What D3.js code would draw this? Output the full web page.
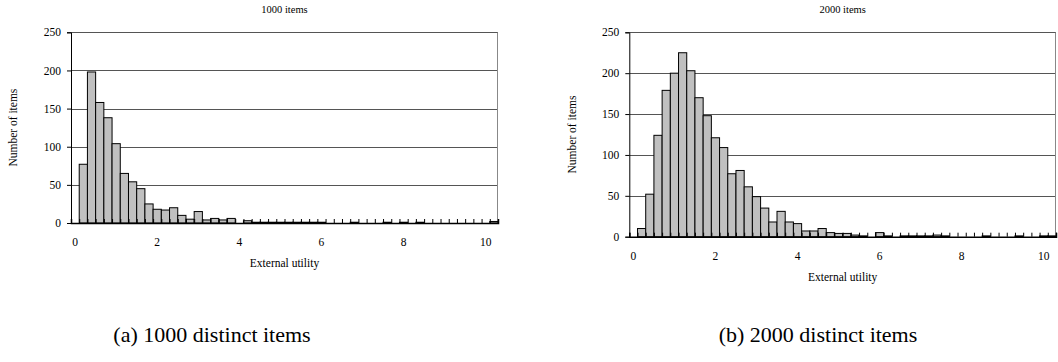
<!DOCTYPE html>
<html>
<head>
<meta charset="utf-8">
<script src="https://cdn.jsdelivr.net/npm/d3@7"></script>
<style>
  body { margin: 0; background: #fff; }
  text { font-family: "Liberation Serif", "Times New Roman", serif; fill: #000; }
</style>
</head>
<body>
<div id="chart"></div>
<script>
// bins of width 0.2 starting at 0 (52 bins: 0 .. 10.2)
var xTickLabels = ["0", "2", "4", "6", "8", "10"];
var yTicks = [0, 50, 100, 150, 200, 250];

var items1000 = [0, 77, 198, 158, 138, 104, 65, 54, 45, 25,
                 18, 17, 20, 10, 5, 15, 4, 6, 4, 6,
                 0, 3, 1, 1, 1, 1, 1, 1, 1, 1,
                 1, 0, 0, 0, 1, 0, 0, 0, 1, 0,
                 1, 0, 1, 0, 0, 0, 0, 0, 0, 0,
                 0, 2];

var items2000 = [0, 10, 52, 124, 179, 200, 225, 203, 170, 148,
                 121, 109, 77, 81, 61, 49, 35, 18, 31, 18,
                 16, 7, 7, 10, 5, 4, 4, 2, 1, 0,
                 5, 1, 0, 1, 1, 1, 1, 2, 1, 0,
                 0, 0, 0, 1, 0, 0, 0, 1, 0, 0,
                 1, 1];

var svg = d3.select("#chart")
  .append("svg")
  .attr("width", 1058)
  .attr("height", 362);

function drawHist(data, opt) {
  var nBins = data.length;

  var x = d3.scaleBand()
    .domain(d3.range(nBins))
    .range([opt.left, opt.right])
    .padding(0);

  var xEdge = d3.scaleLinear()
    .domain([0, nBins])
    .range([opt.left, opt.right]);

  var y = d3.scaleLinear()
    .domain([0, 250])
    .range([opt.bottom, opt.top]);

  var g = svg.append("g");

  // gridlines
  g.append("g")
    .selectAll("line")
    .data(yTicks.slice(1))
    .enter()
    .append("line")
    .attr("x1", opt.left)
    .attr("x2", opt.right)
    .attr("y1", d => Math.round(y(d)) + 0.5)
    .attr("y2", d => Math.round(y(d)) + 0.5)
    .attr("stroke", "#555")
    .attr("stroke-width", 1);

  // right border
  g.append("line")
    .attr("x1", Math.round(opt.right) - 0.5)
    .attr("x2", Math.round(opt.right) - 0.5)
    .attr("y1", Math.round(y(250)) + 0.5)
    .attr("y2", opt.bottom)
    .attr("stroke", "#888");

  // bars
  g.append("g")
    .selectAll("rect")
    .data(data.map((v, i) => ({ i: i, v: v })).filter(d => d.v > 0))
    .enter()
    .append("rect")
    .attr("x", d => x(d.i))
    .attr("y", d => y(d.v))
    .attr("width", x.bandwidth())
    .attr("height", d => opt.bottom - y(d.v))
    .attr("fill", "#c0c0c0")
    .attr("stroke", "#000")
    .attr("stroke-width", 1);

  // left axis
  var leftAxis = d3.axisLeft(y)
    .tickValues(yTicks)
    .tickSize(4)
    .tickPadding(6);

  var ly = g.append("g")
    .attr("transform", `translate(${opt.left}, 0)`)
    .call(leftAxis);
  ly.select(".domain").attr("stroke", "#000");
  ly.selectAll("text")
    .attr("font-size", "11.5px")
    .attr("font-family", "Liberation Serif");

  // boundary tick marks along the bottom
  var edgeAxis = d3.axisBottom(xEdge)
    .tickValues(d3.range(0, nBins + 1))
    .tickSize(-4)
    .tickFormat("");
  var ex = g.append("g")
    .attr("transform", `translate(0, ${opt.bottom})`)
    .call(edgeAxis);
  ex.select(".domain").attr("stroke", "#000").attr("stroke-width", 1.5);

  // category labels every 10 bins
  var bottomAxis = d3.axisBottom(x)
    .tickValues([0, 10, 20, 30, 40, 50])
    .tickSize(0)
    .tickPadding(15)
    .tickFormat((d, i) => xTickLabels[i]);
  var bx = g.append("g")
    .attr("transform", `translate(0, ${opt.bottom})`)
    .call(bottomAxis);
  bx.select(".domain").remove();
  bx.selectAll("text")
    .attr("font-size", "11.5px")
    .attr("font-family", "Liberation Serif");

  var cx = (opt.left + opt.right) / 2;

  // title
  g.append("text")
    .attr("x", cx)
    .attr("y", opt.titleY)
    .attr("text-anchor", "middle")
    .attr("font-size", "10.5px")
    .text(opt.title);

  // axis titles
  g.append("text")
    .attr("x", cx)
    .attr("y", opt.bottom + 44)
    .attr("text-anchor", "middle")
    .attr("font-size", "11.5px")
    .text("External utility");

  g.append("text")
    .attr("transform", `translate(${opt.yLabelX}, ${(opt.top + opt.bottom) / 2}) rotate(-90)`)
    .attr("text-anchor", "middle")
    .attr("font-size", "11.5px")
    .text("Number of items");

  // caption
  svg.append("text")
    .attr("x", opt.captionX)
    .attr("y", 342)
    .attr("text-anchor", "middle")
    .attr("font-size", "22px")
    .text(opt.caption);
}

drawHist(items1000, {
  left: 71, right: 498, top: 32.3, bottom: 223,
  title: "1000 items", titleY: 13, yLabelX: 17,
  caption: "(a) 1000 distinct items", captionX: 212
});

drawHist(items2000, {
  left: 629.3, right: 1056, top: 32.3, bottom: 236.7,
  title: "2000 items", titleY: 13, yLabelX: 576,
  caption: "(b) 2000 distinct items", captionX: 818
});
</script>
</body>
</html>
